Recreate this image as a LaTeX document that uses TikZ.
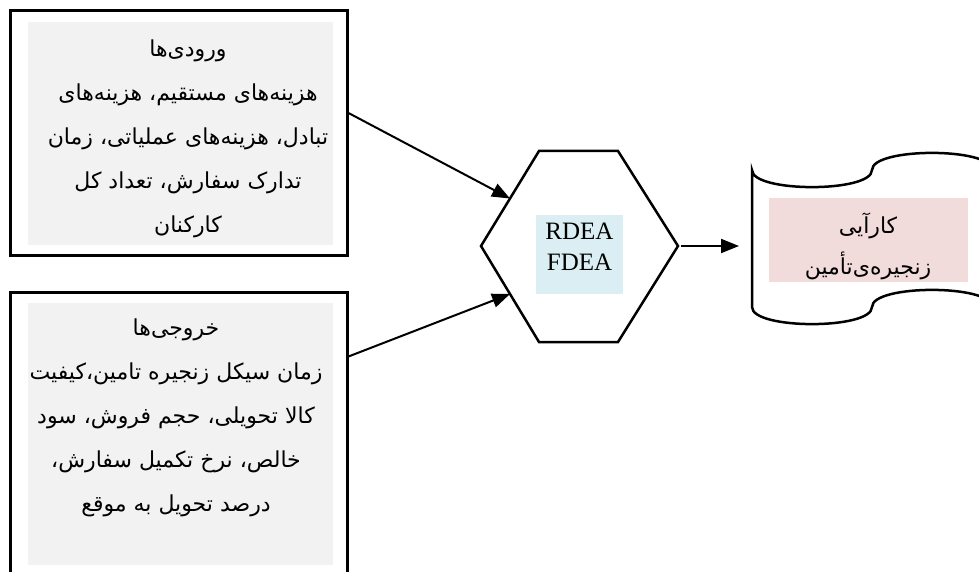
\documentclass[tikz,border=0pt]{standalone}
\usepackage{fontspec}
\setmainfont{Liberation Serif}
\newfontfamily\farsi[Script=Arabic]{DejaVu Sans}
\TeXXeTstate=1
\usetikzlibrary{arrows.meta,calc}
\definecolor{panelgray}{HTML}{F2F2F2}
\definecolor{methodblue}{HTML}{DAEEF3}
\definecolor{resultpink}{HTML}{F2DCDB}
\newcommand{\fatext}[1]{\beginR #1\endR}

\begin{document}
\begin{tikzpicture}[x=1pt, y=-1pt,
    frame/.style={rectangle, draw, line width=3pt, minimum width=337pt},
    panel/.style={rectangle, fill=panelgray, minimum width=305pt},
    fatxt/.style={align=center, font=\farsi\fontsize{22}{44}\selectfont},
    arrow/.style={-{Triangle[length=18pt,width=14pt]}, line width=2pt}]

    \useasboundingbox (0,0) rectangle (979,572);

    % Inputs
    \node[panel, minimum height=223pt] (inpanel) at (180.5,133.5) {};
    \node[frame, minimum height=244pt] (inframe) at (178.5,133) {};
    \node[fatxt] (intext) at (188,139) {\fatext{ورودی^^^^200cها}\\
        \fatext{هزینه^^^^200cهای مستقیم، هزینه^^^^200cهای}\\
        \fatext{تبادل، هزینه^^^^200cهای عملیاتی، زمان}\\
        \fatext{تدارک سفارش، تعداد کل}\\
        \fatext{کارکنان}};

    % Outputs
    \node[panel, minimum height=262pt] (outpanel) at (180,434) {};
    \node[frame, minimum height=298pt] (outframe) at (178.5,441) {};
    \node[fatxt] (outtext) at (176,418) {\fatext{خروجی^^^^200cها}\\
        \fatext{زمان سیکل زنجیره تامین،کیفیت}\\
        \fatext{کالا تحویلی، حجم فروش، سود}\\
        \fatext{خالص، نرخ تکمیل سفارش،}\\
        \fatext{درصد تحویل به موقع}};

    % Method (hexagon)
    \coordinate (hexL) at (481,246);
    \coordinate (hexTL) at (539,151);
    \coordinate (hexTR) at (618,151);
    \coordinate (hexR) at (678,246);
    \coordinate (hexBR) at (618,342);
    \coordinate (hexBL) at (539,342);
    \node[fill=methodblue, minimum width=87pt, minimum height=79pt] (method) at (579.5,254.5) {};
    \node[align=center, font=\fontsize{25}{31}\selectfont] (methodtext) at (579.5,247) {RDEA\\FDEA};
    \draw[line width=2.5pt, line join=miter] (hexL) -- (hexTL) -- (hexTR) -- (hexR) -- (hexBR) -- (hexBL) -- cycle;

    % Result (punched tape)
    \coordinate (scrollL) at (752,238);
    \draw[line width=2.5pt] (752,170) .. controls (752,192.8) and (872,192.8) .. (872,170)
        .. controls (872,147.2) and (992,147.2) .. (992,170) -- (992,307)
        .. controls (992,284.2) and (872,284.2) .. (872,307)
        .. controls (872,329.8) and (752,329.8) .. (752,307) -- cycle;
    \node[fill=resultpink, minimum width=199pt, minimum height=84pt] (result) at (868.5,240) {};
    \node[fatxt, font=\farsi\fontsize{22}{41}\selectfont] (resulttext) at (868,246) {\fatext{کارآیی}\\
        \fatext{زنجیره^^^^200cی^^^^200cتأمین}};

    % Arrows
    \coordinate (in1) at ($(inframe.east)+(0,-20)$);
    \coordinate (out1) at ($(outframe.north east)+(0,66)$);
    \draw[arrow] (in1) -- ($(hexL)!0.5!(hexTL)$);
    \draw[arrow] (out1) -- ($(hexL)!0.5!(hexBL)$);
    \draw[arrow, shorten <=3pt, shorten >=13pt] (hexR) -- (hexR -| scrollL);

\end{tikzpicture}
\end{document}
